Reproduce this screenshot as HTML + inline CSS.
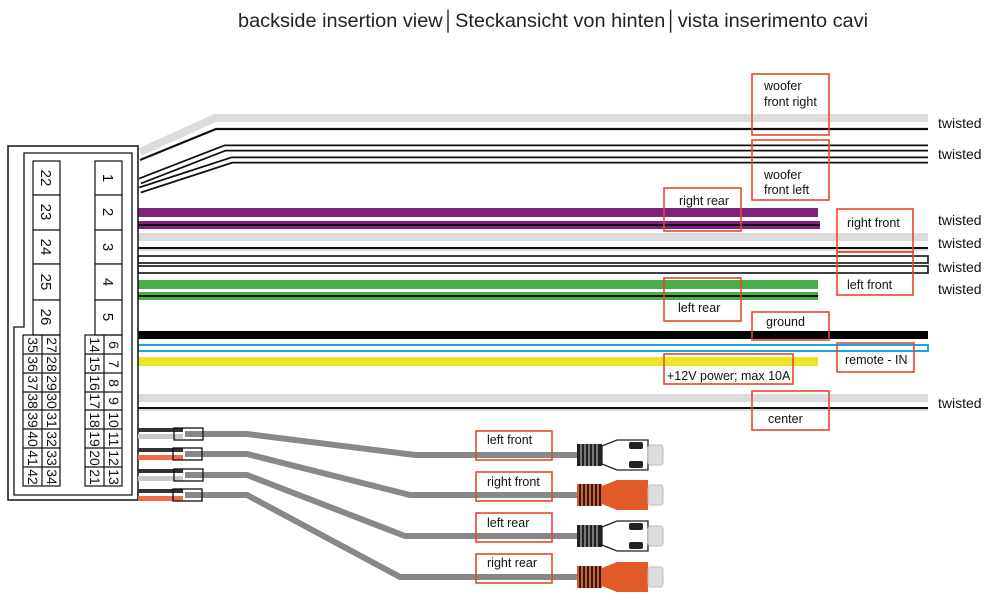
<!DOCTYPE html>
<html><head><meta charset="utf-8"><style>
html,body{margin:0;padding:0;background:#fff;}
svg{display:block;font-family:"Liberation Sans",sans-serif;}
</style></head><body>
<svg width="1000" height="605" viewBox="0 0 1000 605" xmlns="http://www.w3.org/2000/svg">
<text x="238" y="27" font-size="19" textLength="630" lengthAdjust="spacingAndGlyphs" fill="#222">backside insertion view│Steckansicht von hinten│vista inserimento cavi</text>

<polyline points="140,152 215,118 928,118" fill="none" stroke="#dcdcdc" stroke-width="8"/>
<polyline points="140,160 216,129 928,129" fill="none" stroke="#111" stroke-width="2.2"/>
<polyline points="140,181 225,148 928,148" fill="none" stroke="#111" stroke-width="7"/>
<polyline points="140,181 225,148 928,148" fill="none" stroke="#fff" stroke-width="3.5"/>
<polyline points="140,190 232,160 928,160" fill="none" stroke="#111" stroke-width="7"/>
<polyline points="140,190 232,160 928,160" fill="none" stroke="#fff" stroke-width="3.5"/>

<rect x="138" y="208" width="680" height="9" fill="#84217f"/>
<rect x="138" y="221" width="682" height="8" fill="#84217f"/>
<rect x="138" y="224" width="682" height="2" fill="#111"/>
<rect x="138" y="233" width="790" height="8" fill="#dcdcdc"/>
<rect x="138" y="247" width="790" height="2" fill="#111"/>
<rect x="138" y="249" width="790" height="2" fill="#dcdcdc"/>
<rect x="138" y="256" width="790" height="7" fill="#fff" stroke="#111" stroke-width="1.6"/>
<rect x="138" y="266" width="790" height="7" fill="#fff" stroke="#111" stroke-width="1.6"/>
<rect x="138" y="280" width="680" height="9" fill="#49ad4a"/>
<rect x="138" y="292" width="680" height="8" fill="#49ad4a"/>
<rect x="138" y="295" width="680" height="2" fill="#111"/>
<rect x="138" y="331" width="790" height="8" fill="#000"/>
<rect x="138" y="345" width="790" height="6" fill="#fff" stroke="#1aa7e0" stroke-width="2"/>
<rect x="138" y="357" width="680" height="9" fill="#ece523"/>
<rect x="138" y="394" width="790" height="8" fill="#dcdcdc"/>
<rect x="138" y="407" width="790" height="2" fill="#111"/>
<rect x="138" y="409" width="790" height="2" fill="#dcdcdc"/>

<rect x="8" y="146" width="130" height="354" fill="#fff" stroke="#111" stroke-width="1.5"/>
<path d="M24,153 H132 V495 H14 V327 H24 Z" fill="#fff" stroke="#111" stroke-width="1.3"/>
<g fill="#fff" stroke="#111" stroke-width="1.2">
<rect x="33" y="161" width="27" height="34"/><rect x="33" y="195" width="27" height="35"/><rect x="33" y="230" width="27" height="34"/><rect x="33" y="264" width="27" height="36"/><rect x="33" y="300" width="27" height="35"/>
<rect x="95" y="161" width="27" height="34"/><rect x="95" y="195" width="27" height="35"/><rect x="95" y="230" width="27" height="34"/><rect x="95" y="264" width="27" height="36"/><rect x="95" y="300" width="27" height="35"/>
</g>
<g font-size="15" fill="#111" text-anchor="middle">
<text transform="translate(41,178) rotate(90)">22</text>
<text transform="translate(41,212) rotate(90)">23</text>
<text transform="translate(41,247) rotate(90)">24</text>
<text transform="translate(41,282) rotate(90)">25</text>
<text transform="translate(41,317) rotate(90)">26</text>
<text transform="translate(103,178) rotate(90)">1</text>
<text transform="translate(103,212) rotate(90)">2</text>
<text transform="translate(103,247) rotate(90)">3</text>
<text transform="translate(103,282) rotate(90)">4</text>
<text transform="translate(103,317) rotate(90)">5</text>
</g>
<g fill="none" stroke="#111" stroke-width="1.2">
<rect x="23" y="335" width="37" height="151"/><line x1="42" y1="335" x2="42" y2="486"/>
<rect x="85" y="335" width="37" height="151"/><line x1="104" y1="335" x2="104" y2="486"/>
<path d="M23,354H60M23,373H60M23,392H60M23,410H60M23,429H60M23,448H60M23,467H60"/>
<path d="M85,354H122M85,373H122M85,392H122M85,410H122M85,429H122M85,448H122M85,467H122"/>
</g>
<g font-size="14" fill="#111" text-anchor="middle">
<text transform="translate(28,345) rotate(90)">35</text><text transform="translate(28,364) rotate(90)">36</text><text transform="translate(28,383) rotate(90)">37</text><text transform="translate(28,401) rotate(90)">38</text><text transform="translate(28,420) rotate(90)">39</text><text transform="translate(28,439) rotate(90)">40</text><text transform="translate(28,458) rotate(90)">41</text><text transform="translate(28,477) rotate(90)">42</text>
<text transform="translate(47,345) rotate(90)">27</text><text transform="translate(47,364) rotate(90)">28</text><text transform="translate(47,383) rotate(90)">29</text><text transform="translate(47,401) rotate(90)">30</text><text transform="translate(47,420) rotate(90)">31</text><text transform="translate(47,439) rotate(90)">32</text><text transform="translate(47,458) rotate(90)">33</text><text transform="translate(47,477) rotate(90)">34</text>
<text transform="translate(90,345) rotate(90)">14</text><text transform="translate(90,364) rotate(90)">15</text><text transform="translate(90,383) rotate(90)">16</text><text transform="translate(90,401) rotate(90)">17</text><text transform="translate(90,420) rotate(90)">18</text><text transform="translate(90,439) rotate(90)">19</text><text transform="translate(90,458) rotate(90)">20</text><text transform="translate(90,477) rotate(90)">21</text>
<text transform="translate(109,345) rotate(90)">6</text><text transform="translate(109,364) rotate(90)">7</text><text transform="translate(109,383) rotate(90)">8</text><text transform="translate(109,401) rotate(90)">9</text><text transform="translate(109,420) rotate(90)">10</text><text transform="translate(109,439) rotate(90)">11</text><text transform="translate(109,458) rotate(90)">12</text><text transform="translate(109,477) rotate(90)">13</text>
</g>

<g fill="none" stroke="#888" stroke-width="6">
<polyline points="185,434 247,434 415,455 580,455"/>
<polyline points="185,454 247,454 410,495 580,495"/>
<polyline points="185,475 247,475 405,536 580,536"/>
<polyline points="185,495 247,495 400,577 580,577"/>
</g>
<g>
<rect x="138" y="428" width="45" height="4" fill="#333"/><rect x="138" y="434" width="45" height="5" fill="#c8c8c8"/>
<rect x="138" y="448" width="45" height="4" fill="#333"/><rect x="138" y="455" width="45" height="5" fill="#ef6b4c"/>
<rect x="138" y="469" width="45" height="4" fill="#333"/><rect x="138" y="476" width="45" height="5" fill="#c8c8c8"/>
<rect x="138" y="489" width="45" height="4" fill="#333"/><rect x="138" y="496" width="45" height="5" fill="#ef6b4c"/>
<g fill="none" stroke="#111" stroke-width="1.3">
<rect x="174" y="428" width="29" height="12"/><rect x="173" y="448" width="29" height="12"/><rect x="174" y="469" width="29" height="12"/><rect x="173" y="489" width="29" height="12"/>
</g>
</g>

<defs>
<g id="stripes"><rect x="577" y="-11" width="25" height="22" fill="#222"/>
<g stroke="#fff" stroke-width="1.3" opacity="0.6"><line x1="581" y1="-11" x2="581" y2="11"/><line x1="585" y1="-11" x2="585" y2="11"/><line x1="589" y1="-11" x2="589" y2="11"/><line x1="593" y1="-11" x2="593" y2="11"/><line x1="597" y1="-11" x2="597" y2="11"/></g></g>
<g id="white"><use href="#stripes"/><path d="M602,-9 L617,-15 H648 V15 H617 L602,9 Z" fill="#fff" stroke="#222" stroke-width="1.3"/>
<rect x="629" y="-13" width="14" height="7" rx="2" fill="#222"/><rect x="629" y="6" width="14" height="7" rx="2" fill="#222"/>
<rect x="648" y="-10" width="15" height="20" rx="3" fill="#ddd" stroke="#bbb"/></g>
<g id="orange"><rect x="577" y="-11" width="25" height="22" fill="#e15a28"/>
<g stroke="#222" stroke-width="2"><line x1="580" y1="-11" x2="580" y2="11"/><line x1="584" y1="-11" x2="584" y2="11"/><line x1="588" y1="-11" x2="588" y2="11"/><line x1="592" y1="-11" x2="592" y2="11"/><line x1="596" y1="-11" x2="596" y2="11"/><line x1="600" y1="-11" x2="600" y2="11"/></g>
<path d="M602,-9 L617,-15 H648 V15 H617 L602,9 Z" fill="#e15a28"/>
<rect x="648" y="-10" width="15" height="20" rx="3" fill="#ddd" stroke="#bbb"/></g>
</defs>
<use href="#white" transform="translate(0,455)"/>
<use href="#orange" transform="translate(0,495)"/>
<use href="#white" transform="translate(0,536)"/>
<use href="#orange" transform="translate(0,577)"/>

<g fill="none" stroke="#e8472e" stroke-width="1.6">
<rect x="752" y="74" width="77" height="61"/>
<rect x="752" y="140" width="77" height="60"/>
<rect x="664" y="188" width="77" height="43"/>
<rect x="837" y="209" width="76" height="43"/>
<rect x="837" y="252" width="76" height="43"/>
<rect x="664" y="278" width="77" height="43"/>
<rect x="752" y="312" width="77" height="28"/>
<rect x="837" y="343" width="77" height="29"/>
<rect x="664" y="354" width="129" height="30"/>
<rect x="752" y="391" width="77" height="39"/>
<rect x="476" y="431" width="76" height="29"/>
<rect x="476" y="472" width="76" height="29"/>
<rect x="476" y="513" width="76" height="29"/>
<rect x="476" y="554" width="76" height="29"/>
</g>
<g font-size="12.5" fill="#111">
<text x="764" y="90">woofer</text><text x="764" y="106">front right</text>
<text x="764" y="179">woofer</text><text x="764" y="194">front left</text>
<text x="679" y="205">right rear</text>
<text x="847" y="227">right front</text>
<text x="847" y="289">left front</text>
<text x="678" y="312">left rear</text>
<text x="766" y="326">ground</text>
<text x="845" y="364">remote - IN</text>
<text x="667" y="380">+12V power; max 10A</text>
<text x="768" y="423">center</text>
<text x="487" y="444">left front</text>
<text x="487" y="486">right front</text>
<text x="487" y="527">left rear</text>
<text x="487" y="567">right rear</text>
</g>
<g font-size="14" fill="#111">
<text x="938" y="128">twisted</text>
<text x="938" y="159">twisted</text>
<text x="938" y="225">twisted</text>
<text x="938" y="248">twisted</text>
<text x="938" y="272">twisted</text>
<text x="938" y="294">twisted</text>
<text x="938" y="408">twisted</text>
</g>
</svg>
</body></html>
